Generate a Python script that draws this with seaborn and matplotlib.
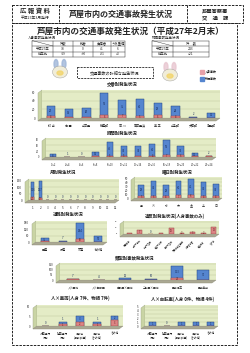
import numpy as np
import matplotlib
matplotlib.use("Agg")
import matplotlib.pyplot as plt
from matplotlib.patches import Rectangle, Ellipse, Polygon
import seaborn as sns

sns.set_theme(style="white")
plt.rcParams['font.family'] = ['Noto Sans CJK JP', 'DejaVu Sans']

# ---------------------------------------------------------------
# data
# ---------------------------------------------------------------
jin_cols = ["件数", "死者", "負傷者", "うち重傷"]
jin_rows = ["平成27年", "前年比"]
jin_vals = [["38", "0", "41", "6"], ["-19", "±0", "-21", "+3"]]
bus_vals = ["243", "+21"]

koban = ["打 出", "岩 園", "山芦屋", "精道町", "宮 川", "南芦屋浜", "業 平", "山手町", "大東町", "潮見町"]
koban_jin = [4, 2, 3, 6, 7, 5, 6, 4, 0, 1]
koban_bus = [23, 19, 20, 51, 35, 40, 29, 24, 2, 11]

hours = ["0～2", "2～4", "4～6", "6～8", "8～10", "10～12", "12～14", "14～16", "16～18", "18～20", "20～22", "22～24"]
hours_jin = [1, 0, 0, 2, 5, 5, 3, 4, 7, 6, 3, 2]
hours_bus = [8, 1, 0, 15, 45, 34, 33, 40, 52, 32, 11, 2]

months = [str(m) for m in range(1, 13)]
months_jin = [21, 17, 0, 0, 0, 0, 0, 0, 0, 0, 0, 0]
months_bus = [116, 127, 0, 0, 0, 0, 0, 0, 0, 0, 0, 0]

days = ["月", "火", "水", "木", "金", "土", "日"]
days_jin = [5, 6, 4, 7, 8, 4, 4]
days_bus = [29, 39, 29, 36, 41, 37, 32]

roads = ["国道", "県道", "市道", "その他"]
roads_jin = [5, 1, 30, 2]
roads_bus = [35, 7, 144, 57]

ihan = ["信号無視", "一時不停止", "前方不注意", "安全不確認", "動静不注視",
        "交差点安全進行", "歩行者妨害", "安全速度", "その他"]
ihan_jin = [1, 7, 0, 1, 10, 2, 3, 2, 12]

ruikei = ["人×車両", "人×自転車", "自転車×車両", "二輪車×車両", "車両相互", "車両単独"]
ruikei_jin = [7, 0, 4, 2, 22, 3]
ruikei_bus = [7, 4, 12, 10, 113, 97]

hoko = ["対面通行\n行中", "背面通行\n行中", "横断中\n(横断歩道)", "横断中\n(その他)", "その他"]
hv_jin = [0, 1, 2, 1, 3]
hv_bus = [0, 1, 3, 1, 2]
hb_jin = [0, 0, 0, 0, 0]
hb_bus = [1, 0, 1, 1, 1]

BLUE = "#5585cf"
BLUE_E = "#23447e"
PINK = "#dc8484"
PINK_E = "#9c4444"
WALL = "#e4ecc6"

W, H = 250, 353
fig = plt.figure(figsize=(W / 100, H / 100), dpi=100)
fig.patch.set_facecolor("white")

bg = fig.add_axes([0, 0, 1, 1])
bg.set_xlim(0, W)
bg.set_ylim(H, 0)
bg.axis("off")


def box(x0, y0, x1, y1):
    return [x0 / W, 1 - y1 / H, (x1 - x0) / W, (y1 - y0) / H]


def dashed_rect(x0, y0, x1, y1, lw=0.7):
    bg.add_patch(Rectangle((x0, y0), x1 - x0, y1 - y0, fill=False, ec="#222222",
                           lw=lw, ls=(0, (2.5, 1.2))))


# page frame and header
dashed_rect(12, 5, 243, 23)
dashed_rect(12, 23, 237, 345)
bg.plot([59, 59], [5, 23], color="#222222", lw=0.7, ls=(0, (2.5, 1.2)))
bg.plot([187, 187], [5, 23], color="#222222", lw=0.7, ls=(0, (2.5, 1.2)))
bg.text(35, 11, "広 報 資 料", ha="center", va="center", fontsize=4.6, fontweight="bold")
bg.text(35, 18, "平成27年3月発行", ha="center", va="center", fontsize=2.7)
bg.text(121, 14, "芦屋市内の交通事故発生状況", ha="center", va="center",
        fontsize=5.8, fontweight="bold")
bg.text(215, 11, "芦屋警察署", ha="center", va="center", fontsize=3.8, fontweight="bold")
bg.text(215, 18, "交　通　課", ha="center", va="center", fontsize=3.8, fontweight="bold")
bg.text(131, 31, "芦屋市内の交通事故発生状況（平成27年2月末）", ha="center", va="center",
        fontsize=6.2, fontweight="bold")

# tables
bg.text(28, 38.2, "人身事故発生状況", ha="left", va="center", fontsize=2.5)
bg.text(152, 38.2, "物損事故発生状況", ha="left", va="center", fontsize=2.5)
xs = [32, 53, 73, 93, 111, 125]
ys = [40.5, 46, 51.5, 57]
for x in xs:
    bg.plot([x, x], [ys[0], ys[-1]], color="#333333", lw=0.35)
for y in ys:
    bg.plot([xs[0], xs[-1]], [y, y], color="#333333", lw=0.35)
bg.plot([xs[0], xs[1]], [ys[0], ys[1]], color="#333333", lw=0.3)
for j, c in enumerate(jin_cols):
    bg.text((xs[j + 1] + xs[j + 2]) / 2, (ys[0] + ys[1]) / 2, c, ha="center", va="center", fontsize=2.4)
for i, r in enumerate(jin_rows):
    bg.text((xs[0] + xs[1]) / 2, (ys[i + 1] + ys[i + 2]) / 2, r, ha="center", va="center", fontsize=2.4)
    for j in range(4):
        bg.text((xs[j + 1] + xs[j + 2]) / 2, (ys[i + 1] + ys[i + 2]) / 2, jin_vals[i][j],
                ha="center", va="center", fontsize=2.4)
xr = [152, 173, 209]
for x in xr:
    bg.plot([x, x], [ys[0], ys[-1]], color="#333333", lw=0.35)
for y in ys:
    bg.plot([xr[0], xr[-1]], [y, y], color="#333333", lw=0.35)
bg.plot([xr[0], xr[1]], [ys[0], ys[1]], color="#333333", lw=0.3)
bg.text((xr[1] + xr[2]) / 2, (ys[0] + ys[1]) / 2, "件　数", ha="center", va="center", fontsize=2.4)
for i, r in enumerate(jin_rows):
    bg.text((xr[0] + xr[1]) / 2, (ys[i + 1] + ys[i + 2]) / 2, r, ha="center", va="center", fontsize=2.4)
    bg.text((xr[1] + xr[2]) / 2, (ys[i + 1] + ys[i + 2]) / 2, bus_vals[i], ha="center", va="center", fontsize=2.4)

# mascots (rough)
for cx, cy, ear in [(60, 72, "#9fb6d8"), (170, 75, "#e8c6d0")]:
    bg.add_patch(Ellipse((cx - 4, cy - 8), 4, 9, color=ear, alpha=0.8))
    bg.add_patch(Ellipse((cx + 4, cy - 8), 4, 9, color=ear, alpha=0.8))
    bg.add_patch(Ellipse((cx, cy), 15, 12, color="#f1edd8", ec="#999999", lw=0.3))
    bg.add_patch(Ellipse((cx, cy + 1), 6, 4, color="#f3d56a", alpha=0.8))

dashed_rect(77, 67, 153, 78, lw=0.6)
bg.text(115, 72.5, "交通事故の詳細な発生状況", ha="center", va="center", fontsize=3.0)
bg.add_patch(Rectangle((200, 70), 3.5, 3.5, color="#e6a0a8"))
bg.add_patch(Rectangle((200, 77), 3.5, 3.5, color=BLUE))
bg.text(205, 71.8, "人身事故", ha="left", va="center", fontsize=2.2)
bg.text(205, 78.8, "物損事故", ha="left", va="center", fontsize=2.2)


def stacked(rect, cats, jin, bus, ymax, step, title, tpos, lab_size=2.2, rot=0, width=0.45):
    x0, y0, x1, y1 = rect
    # pseudo 3D wall and floor
    bg.add_patch(Polygon([(x0 - 4, y0 + 3), (x0, y0), (x0, y1), (x0 - 4, y1 + 3)],
                         closed=True, fc="#c9d4a4", ec="#a0a888", lw=0.3))
    bg.add_patch(Polygon([(x0 - 4, y1 + 3), (x0, y1), (x1, y1), (x1 - 4, y1 + 3)],
                         closed=True, fc="#aaa893", ec="#8e8c78", lw=0.3))
    ax = fig.add_axes(box(*rect))
    total = [a + b for a, b in zip(jin, bus)]
    if any(bus):
        sns.barplot(x=cats, y=total, color=BLUE, ax=ax, width=width,
                    edgecolor=BLUE_E, linewidth=0.35, saturation=1)
    sns.barplot(x=cats, y=jin, color=PINK, ax=ax, width=width,
                edgecolor=PINK_E, linewidth=0.35, saturation=1)
    ax.set_facecolor(WALL)
    ax.set_ylim(0, ymax * 1.08)
    ax.set_yticks(np.arange(0, ymax + 0.1, step))
    ax.yaxis.grid(True, color="#b9c29a", lw=0.3)
    ax.set_axisbelow(True)
    for s in ax.spines.values():
        s.set_visible(False)
    ax.tick_params(axis="both", length=0, labelsize=lab_size)
    ax.tick_params(axis="y", pad=5)
    ax.tick_params(axis="x", pad=4)
    if rot:
        plt.setp(ax.get_xticklabels(), rotation=rot, ha="right", rotation_mode="anchor")
    ax.set_xlabel("")
    ax.set_ylabel("")
    for i, (a, b) in enumerate(zip(jin, bus)):
        if b > ymax * 0.12:
            ax.text(i, a + b / 2, str(b), ha="center", va="center", fontsize=2.0, color="#1b2f5c")
        elif b > 0 or (a == 0 and b == 0):
            ax.text(i, a + b + ymax * 0.04, str(b), ha="center", va="bottom", fontsize=2.0, color="#1b2f5c")
        if a > ymax * 0.05:
            ax.text(i, a / 2, str(a), ha="center", va="center", fontsize=1.8, color="#5a1e1e")
    bg.text(tpos[0], tpos[1], title, ha="center", va="center", fontsize=3.2, fontweight="bold")
    return ax


stacked((42, 90, 220, 118), koban, koban_jin, koban_bus, 60, 20, "交番別発生状況", (122, 85))
stacked((46, 138, 216, 157), hours, hours_jin, hours_bus, 60, 20, "時間別発生状況", (122, 133), lab_size=1.8)
stacked((29, 179, 119, 200), months, months_jin, months_bus, 150, 50, "月別発生状況", (63, 172))
stacked((135, 177, 222, 198), days, days_jin, days_bus, 50, 10, "曜日別発生状況", (177, 172))
stacked((36, 221, 107, 242), roads, roads_jin, roads_bus, 180, 60, "道路別発生状況", (68, 214))
stacked((124, 221, 219, 234), ihan, ihan_jin, [0] * len(ihan), 20, 10,
        "違反別発生状況(人身事故のみ)", (175, 216), lab_size=1.5, rot=45)
stacked((60, 263, 216, 280), ruikei, ruikei_jin, ruikei_bus, 150, 50, "類型別事故発生状況", (135, 258), lab_size=2.0)
stacked((37, 305, 123, 326), hoko, hv_jin, hv_bus, 10, 5, "人×車両(人身 7件、物損 7件)", (80, 298), lab_size=2.0)
stacked((145, 305, 218, 326), hoko, hb_jin, hb_bus, 5, 1, "人×自転車(人身 0件、物損 4件)", (183, 299), lab_size=2.0)

fig.savefig("out.png", dpi=100)
